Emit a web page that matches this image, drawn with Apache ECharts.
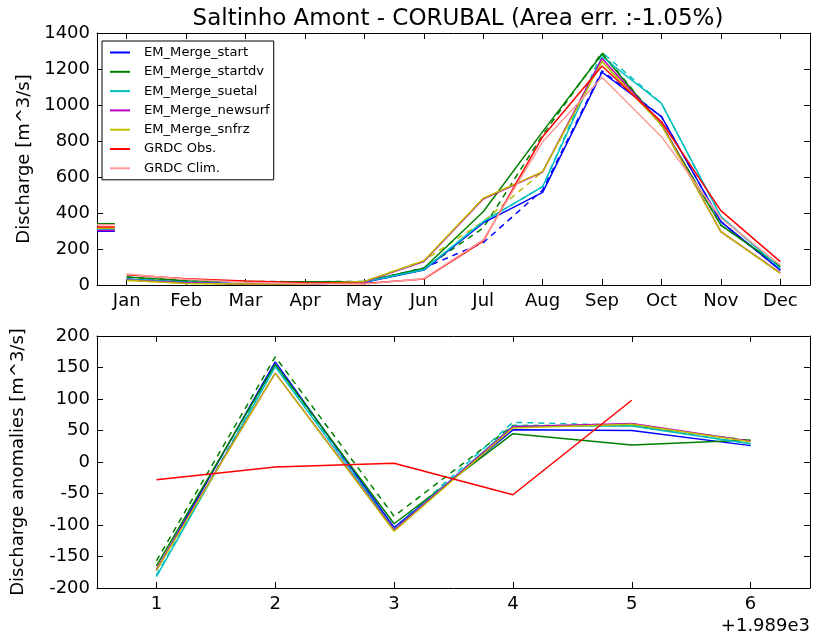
<!DOCTYPE html>
<html><head><meta charset="utf-8">
<script src="https://cdn.jsdelivr.net/npm/echarts@6/dist/echarts.min.js"></script>
<style>html,body{margin:0;padding:0;background:#fff}#c{width:814px;height:640px}</style>
</head><body><div id="c"></div>
<script>
// ---------- data ----------
const months = ['Jan','Feb','Mar','Apr','May','Jun','Jul','Aug','Sep','Oct','Nov','Dec'];
const monthPos = [1,2,3,4,5,6,7,8,9,10,11,12];
const names = ['EM_Merge_start','EM_Merge_startdv','EM_Merge_suetal','EM_Merge_newsurf','EM_Merge_snfrz','GRDC Obs.','GRDC Clim.'];
const colors = ['#0000ff','#008000','#00bfbf','#bf00bf','#bfbf00','#ff0000','#ff9a9a'];

// monthly climatology (top panel)
const startVals   = [32,15,5,5,15,83,345,515,1182,935,352,83];
const startdvVals = [44,24,20,18,20,93,407,852,1283,889,333,102];
const suetalVals  = [32,15,5,5,18,85,352,546,1268,1009,380,93];
const newsurfVals = [28,12,5,5,18,130,478,628,1259,895,296,68];
const snfrzVals   = [26,9,5,5,20,135,482,630,1241,889,296,65];
const obsVals     = [57,35,22,12,8,33,244,824,1217,907,413,130];
const climVals    = [61,32,15,7,5,35,250,796,1154,824,372,111];
// dashed companion curves (no legend entry)
const startDash   = [32,15,5,5,15,95,235,528,1190,935,352,83];
const startdvDash = [44,24,20,18,20,90,317,833,1292,889,333,102];
const suetalDash  = [32,15,5,5,18,85,352,546,1292,1009,380,93];
const snfrzDash   = [26,9,5,5,20,135,352,630,1245,889,296,65];
// annual means (short marks at left edge)
const meanSpan = [0.5, 0.8];
const annualMeans = [298,340,310,303,315,322,335];

// anomalies (bottom panel)
const yearPos = [1,2,3,4,5,6];
const anStart   = [-172,159,-104,51,50,26];
const anStartdv = [-165,155,-98,45,27,35];
const anSuetal  = [-182,151,-107,57,57,29];
const anNewsurf = [-170,141,-108,56,61,33];
const anSnfrz   = [-172,141,-110,54,60,32];
const anObs     = [-28,-8,-2,-52,98];
const anStartdvDash = [-157,167,-86,58,58,34];
const anSuetalDash  = [-180,153,-105,63,58,29];

// ---------- chart ----------
const FONT = 'DejaVu Sans';
const pairs = (xs, ys) => ys.map((v,i)=>[xs[i], v]);
function line(name, data, color, xi, yi, z, dashed){
  return {type:'line', name, data, xAxisIndex:xi, yAxisIndex:yi, symbol:'none', silent:true,
    animation:false, z:z||2, clip:true,
    lineStyle:{color, width:1.5, type: dashed ? [6,5] : 'solid'}, itemStyle:{color}};
}
const topVals = [startVals,startdvVals,suetalVals,newsurfVals,snfrzVals,obsVals,climVals];
const botVals = [anStart,anStartdv,anSuetal,anNewsurf,anSnfrz,anObs];
const series = [];
series.push(line('d0', pairs(monthPos,startDash), colors[0], 0, 0, 2, true));
series.push(line('d1', pairs(monthPos,startdvDash), colors[1], 0, 0, 2, true));
series.push(line('d2', pairs(monthPos,suetalDash), colors[2], 0, 0, 2, true));
series.push(line('d4', pairs(monthPos,snfrzDash), colors[4], 0, 0, 2, true));
topVals.forEach((v,i)=>series.push(line(names[i], pairs(monthPos,v), colors[i], 0, 0, 3)));
annualMeans.forEach((m,i)=>series.push(line('m'+i, meanSpan.map(x=>[x,m]), colors[i], 0, 0, 3)));
series.push(line('bd1', pairs(yearPos,anStartdvDash), colors[1], 2, 2, 2, true));
series.push(line('bd2', pairs(yearPos,anSuetalDash), colors[2], 2, 2, 2, true));
botVals.forEach((v,i)=>series.push(line('b'+i, pairs(yearPos,v), colors[i], 2, 2, 3)));

const axLine = {show:true, onZero:false, lineStyle:{color:'#000', width:1}};
const tick = (vals) => ({show:true, inside:true, length:6, lineStyle:{color:'#000', width:1}, customValues: vals});
const ytick = {show:true, inside:true, length:6, lineStyle:{color:'#000'}};
const lbl = {color:'#000', fontSize:18, fontFamily:FONT};

const option = {
  backgroundColor:'#fff',
  animation:false,
  title:{text:'Saltinho Amont - CORUBAL (Area err. :-1.05%)', left:453, top:3, textAlign:'center',
    textStyle:{fontFamily:FONT, fontSize:23, fontWeight:'normal', color:'#000'}},
  grid:[
    {left:97, top:33, width:713, height:252, show:false},
    {left:97, top:336, width:713, height:252, show:false}
  ],
  xAxis:[
    {type:'value', gridIndex:0, min:0.5, max:12.5, position:'bottom', axisLine:axLine, splitLine:{show:false},
     axisTick:tick(monthPos), axisLabel:Object.assign({}, lbl, {margin:7, customValues:monthPos, formatter:v=>months[Math.round(v)-1]})},
    {type:'value', gridIndex:0, min:0.5, max:12.5, position:'top', axisLine:axLine, splitLine:{show:false},
     axisTick:tick(monthPos), axisLabel:{show:false}},
    {type:'value', gridIndex:1, min:0.5, max:6.5, position:'bottom', axisLine:axLine, splitLine:{show:false},
     axisTick:tick(yearPos), axisLabel:Object.assign({}, lbl, {margin:7, customValues:yearPos, formatter:v=>String(Math.round(v))})},
    {type:'value', gridIndex:1, min:0.5, max:6.5, position:'top', axisLine:axLine, splitLine:{show:false},
     axisTick:tick(yearPos), axisLabel:{show:false}}
  ],
  yAxis:[
    {type:'value', gridIndex:0, min:0, max:1400, interval:200, position:'left', axisLine:axLine, splitLine:{show:false},
     axisTick:ytick, axisLabel:Object.assign({}, lbl, {margin:7, formatter:v=>String(v)})},
    {type:'value', gridIndex:0, min:0, max:1400, interval:200, position:'right', axisLine:axLine, splitLine:{show:false},
     axisTick:ytick, axisLabel:{show:false}},
    {type:'value', gridIndex:1, min:-200, max:200, interval:50, position:'left', axisLine:axLine, splitLine:{show:false},
     axisTick:ytick, axisLabel:Object.assign({}, lbl, {margin:7, formatter:v=>String(v)})},
    {type:'value', gridIndex:1, min:-200, max:200, interval:50, position:'right', axisLine:axLine, splitLine:{show:false},
     axisTick:ytick, axisLabel:{show:false}}
  ],
  legend:{
    data:names, orient:'vertical', left:102, top:41, icon:'rect', itemWidth:20, itemHeight:2, itemGap:4.3,
    selectedMode:false, backgroundColor:'#fff', borderColor:'#000', borderWidth:1, borderRadius:0,
    padding:[4,4,4,8],
    textStyle:{fontFamily:FONT, fontSize:13.1, color:'#000', lineHeight:15, padding:[0,0,0,9]}
  },
  graphic:[
    {type:'text', x:24, y:159, rotation:Math.PI/2, style:{text:'Discharge [m^3/s]', font:'18px "DejaVu Sans"', fill:'#000', textAlign:'center', textVerticalAlign:'middle'}},
    {type:'text', x:18, y:462, rotation:Math.PI/2, style:{text:'Discharge anomalies [m^3/s]', font:'18px "DejaVu Sans"', fill:'#000', textAlign:'center', textVerticalAlign:'middle'}},
    {type:'text', x:810, y:626, style:{text:'+1.989e3', font:'18px "DejaVu Sans"', fill:'#000', textAlign:'right', textVerticalAlign:'middle'}}
  ],
  series
};
const chart = echarts.init(document.getElementById('c'), null, {renderer:'canvas'});
chart.setOption(option);
</script></body></html>
